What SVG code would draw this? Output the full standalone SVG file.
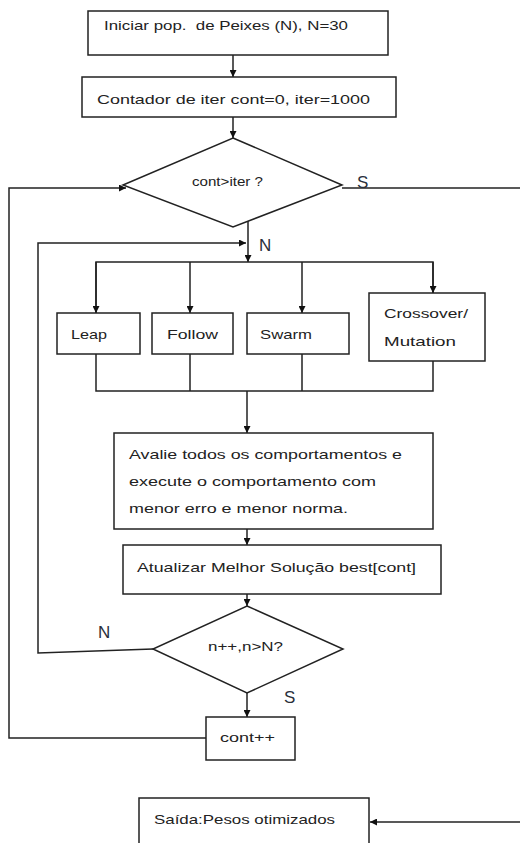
<svg xmlns="http://www.w3.org/2000/svg" width="520" height="843" viewBox="0 0 520 843">
<defs>
<style>
.box{fill:#fff;stroke:#222;stroke-width:1.5}
.ln{fill:none;stroke:#222;stroke-width:1.5}
.t{font-family:"Liberation Sans",Arial,sans-serif;font-size:13px;fill:#222}
.lbl{font-family:"Liberation Sans",Arial,sans-serif;font-size:17px;fill:#2a2f3a}
</style>
<marker id="ah" viewBox="0 0 10 10" refX="10" refY="5" markerWidth="7" markerHeight="7" markerUnits="userSpaceOnUse" orient="auto">
<path d="M0,0 L10,5 L0,10 z" fill="#111"/>
</marker>
</defs>
<rect width="520" height="843" fill="#fff"/>
<g id="connectors">
<path class="ln" d="M233,55 V77" marker-end="url(#ah)"/>
<path class="ln" d="M233,117 V138" marker-end="url(#ah)"/>
<path class="ln" d="M248,219 V262" marker-end="url(#ah)"/>
<path class="ln" d="M96,313 V262 H433 V293"/>
<path class="ln" d="M96,262 V313" marker-end="url(#ah)"/>
<path class="ln" d="M190,262 V313" marker-end="url(#ah)"/>
<path class="ln" d="M302,262 V313" marker-end="url(#ah)"/>
<path class="ln" d="M433,262 V293" marker-end="url(#ah)"/>
<path class="ln" d="M96,354 V391 H433 V361 M190,354 V391 M302,354 V391"/>
<path class="ln" d="M247,391 V433" marker-end="url(#ah)"/>
<path class="ln" d="M247,529 V545" marker-end="url(#ah)"/>
<path class="ln" d="M247,594 V606" marker-end="url(#ah)"/>
<path class="ln" d="M247,693 V717" marker-end="url(#ah)"/>
<path class="ln" d="M153,649 L38,653 V243 H246" marker-end="url(#ah)"/>
<path class="ln" d="M206,738 H9 V188 H126" marker-end="url(#ah)"/>
<path class="ln" d="M342,188 H520"/>
<path class="ln" d="M520,822 H370" marker-end="url(#ah)"/>
<text class="lbl" x="357" y="188">S</text>
<text class="lbl" x="259" y="251">N</text>
<text class="lbl" x="98" y="638">N</text>
<text class="lbl" x="284" y="703">S</text>
</g>
<g id="init">
<rect class="box" x="88" y="11" width="300" height="44"/>
<text class="t" x="104" y="30" textLength="244" lengthAdjust="spacingAndGlyphs" xml:space="preserve">Iniciar pop.  de Peixes (N), N=30</text>
</g>
<g id="counter">
<rect class="box" x="82" y="77" width="314" height="40"/>
<text class="t" x="97" y="104" textLength="273" lengthAdjust="spacingAndGlyphs">Contador de iter cont=0, iter=1000</text>
</g>
<g id="cond1">
<polygon class="box" points="233,138 342,185 233,227 123,185"/>
<text class="t" x="192" y="186" textLength="71" lengthAdjust="spacingAndGlyphs">cont&gt;iter ?</text>
</g>
<g id="leap">
<rect class="box" x="57" y="313" width="83" height="41"/>
<text class="t" x="71" y="339" textLength="36" lengthAdjust="spacingAndGlyphs">Leap</text>
</g>
<g id="follow">
<rect class="box" x="152" y="313" width="81" height="41"/>
<text class="t" x="167" y="339" textLength="51" lengthAdjust="spacingAndGlyphs">Follow</text>
</g>
<g id="swarm">
<rect class="box" x="247" y="313" width="102" height="41"/>
<text class="t" x="260" y="339" textLength="52" lengthAdjust="spacingAndGlyphs">Swarm</text>
</g>
<g id="crossover">
<rect class="box" x="369" y="293" width="116" height="68"/>
<text class="t" x="384" y="318" textLength="84" lengthAdjust="spacingAndGlyphs">Crossover/</text>
<text class="t" x="384" y="346" textLength="72" lengthAdjust="spacingAndGlyphs">Mutation</text>
</g>
<g id="evaluate">
<rect class="box" x="114" y="433" width="319" height="96"/>
<text class="t" x="129" y="459" textLength="273" lengthAdjust="spacingAndGlyphs">Avalie todos os comportamentos e</text>
<text class="t" x="129" y="486" textLength="247" lengthAdjust="spacingAndGlyphs">execute o comportamento com</text>
<text class="t" x="129" y="513" textLength="219" lengthAdjust="spacingAndGlyphs">menor erro e menor norma.</text>
</g>
<g id="update">
<rect class="box" x="123" y="545" width="318" height="49"/>
<text class="t" x="137" y="572" textLength="279" lengthAdjust="spacingAndGlyphs">Atualizar Melhor Solução best[cont]</text>
</g>
<g id="cond2">
<polygon class="box" points="247,606 343,649 247,693 153,649"/>
<text class="t" x="208" y="651" textLength="75" lengthAdjust="spacingAndGlyphs">n++,n&gt;N?</text>
</g>
<g id="contpp">
<rect class="box" x="206" y="717" width="89" height="43"/>
<text class="t" x="220" y="742" textLength="55" lengthAdjust="spacingAndGlyphs">cont++</text>
</g>
<g id="output">
<rect class="box" x="139" y="798" width="230" height="60"/>
<text class="t" x="154" y="824" textLength="181" lengthAdjust="spacingAndGlyphs">Saída:Pesos otimizados</text>
</g>
</svg>
